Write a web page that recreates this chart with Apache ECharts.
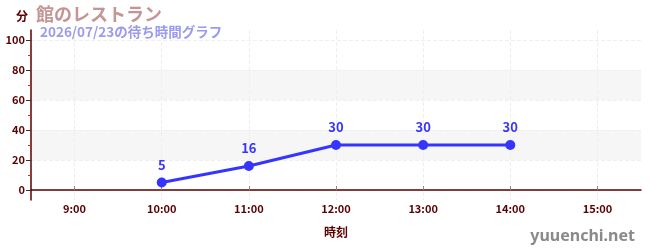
<!DOCTYPE html>
<html><head><meta charset="utf-8">
<script src="https://cdn.jsdelivr.net/npm/echarts@6/dist/echarts.min.js"></script>
<style>html,body{margin:0;padding:0;background:#fff}#c{width:650px;height:250px}</style>
</head><body><div id="c"></div>
<script>
const categories = ['9:00','10:00','11:00','12:00','13:00','14:00','15:00'];
const waitTimes = [null, 5, 16, 30, 30, 30, null];
const yTickValues = [0, 20, 40, 60, 80, 100];
const yMinorValues = [10, 30, 50, 70, 90];
const titleText = '館のレストラン';
const subtitleText = '2026/07/23の待ち時間グラフ';
const font = '"Noto Sans CJK JP", "Noto Sans", sans-serif';
const axisColor = '#5a0000';
const chart = echarts.init(document.getElementById('c'));
chart.setOption({
  animation: false,
  textStyle: { fontFamily: font },
  title: [{
    text: titleText, left: 31, top: 0,
    textStyle: { color: '#c49595', fontSize: 18, fontWeight: 'bold', fontFamily: font }
  }, {
    text: subtitleText, left: 35, top: 20,
    textStyle: { color: '#9a9af0', fontSize: 13.5, fontWeight: 'bold', fontFamily: font }
  }],
  grid: { left: 31, right: 9, top: 30, bottom: 50, containLabel: false },
  xAxis: {
    type: 'category', data: categories, boundaryGap: true,
    name: '時刻', nameLocation: 'middle', nameGap: 26,
    nameTextStyle: { color: axisColor, fontSize: 12, fontWeight: 'bold' },
    axisLine: { lineStyle: { color: axisColor, width: 1.5 } },
    axisTick: { show: true, alignWithLabel: true, inside: true, length: 4, lineStyle: { color: '#888' } },
    axisLabel: { color: axisColor, fontSize: 11, fontWeight: 'bold', margin: 3 },
    splitLine: { show: true, alignWithLabel: true, lineStyle: { type: 'dashed', color: '#efefef' } }
  },
  yAxis: [{
    type: 'value', min: -6.67, max: 106.67,
    name: '分', nameLocation: 'end', nameGap: 8,
    nameTextStyle: { color: axisColor, fontSize: 12, fontWeight: 'bold', align: 'right', padding: [0, 3, 0, 0] },
    axisLine: { show: true, lineStyle: { color: axisColor, width: 1.5 } },
    axisTick: { show: true, length: 5, customValues: yTickValues, lineStyle: { color: '#333' } },
    axisLabel: { color: axisColor, fontSize: 11, fontWeight: 'bold', customValues: yTickValues, margin: 6 },
    splitLine: { show: true, lineStyle: { type: 'dashed', color: '#efefef' } },
    splitArea: { show: true, areaStyle: { color: ['rgba(255,255,255,0)', 'rgba(246,246,246,1)'] } }
  }, {
    type: 'value', min: -6.67, max: 106.67, position: 'left',
    axisLine: { show: false },
    axisTick: { show: true, length: 3, customValues: yMinorValues, lineStyle: { color: '#dd2222' } },
    axisLabel: { show: false },
    splitLine: { show: false }
  }],
  series: [{
    type: 'line', data: waitTimes, yAxisIndex: 0,
    connectNulls: false,
    symbol: 'circle', symbolSize: 10,
    lineStyle: { color: '#3535ff', width: 3 },
    itemStyle: { color: '#3535ff' },
    label: { show: true, position: 'top', color: '#3535ff', fontSize: 13, fontWeight: 'bold', distance: 6 }
  }],
  graphic: [{
    type: 'text', right: 15, bottom: 6,
    style: { text: 'yuuenchi.net', fill: '#8a8a8a', fontSize: 16, fontWeight: 'bold', fontFamily: '"Noto Sans", sans-serif' }
  }]
});
</script></body></html>
